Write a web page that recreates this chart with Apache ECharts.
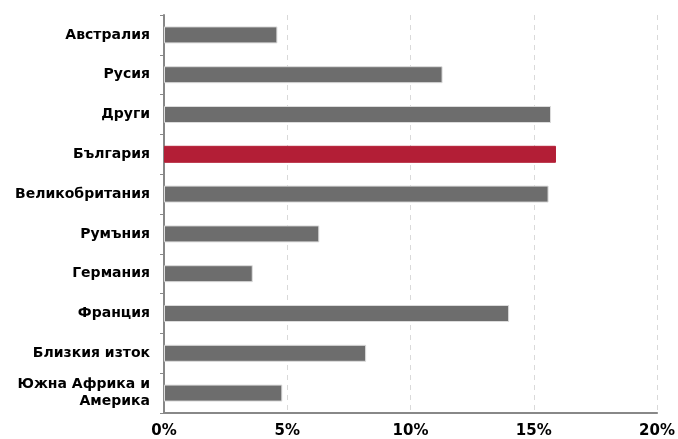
<!DOCTYPE html>
<html><head><meta charset="utf-8">
<script src="https://cdn.jsdelivr.net/npm/echarts@6/dist/echarts.min.js"></script>
<style>html,body{margin:0;padding:0;background:#fff}#c{width:678px;height:439px}</style>
</head><body><div id="c"></div>
<script>
const categories = ['Австралия','Русия','Други','България','Великобритания','Румъния','Германия','Франция','Близкия изток','Южна Африка и\nАмерика'];
const values = [4.6, 11.3, 15.7, 15.9, 15.6, 6.3, 3.6, 14.0, 8.2, 4.8];
const highlight = 'България';
const xTicks = [0, 5, 10, 15, 20];
const FONT = "'DejaVu Sans', Verdana, sans-serif";

const chart = echarts.init(document.getElementById('c'));
chart.setOption({
  animation: false,
  grid: {left: 164, right: 19, top: 15, bottom: 26, containLabel: false},
  xAxis: {
    type: 'value', min: xTicks[0], max: xTicks[xTicks.length-1], interval: 5,
    axisLine: {show: true, lineStyle: {color: '#888', width: 2}},
    axisTick: {show: false},
    splitLine: {show: true, lineStyle: {color: '#d9d9d9', type: [5, 5], width: 1}},
    axisLabel: {formatter: v => v + '%', color: '#000', fontFamily: FONT, fontWeight: 'bold', fontSize: 15, margin: 11}
  },
  yAxis: {
    type: 'category', data: categories, inverse: true,
    axisLine: {show: true, lineStyle: {color: '#888', width: 2}},
    axisTick: {show: true, length: 4, lineStyle: {color: '#888'}},
    axisLabel: {color: '#000', fontFamily: FONT, fontWeight: 'bold', fontSize: 14, margin: 14, align: 'right', lineHeight: 17}
  },
  series: [{
    type: 'bar', barWidth: 17,
    data: values.map((v, i) => ({value: v, itemStyle: {color: categories[i] === highlight ? '#b31e36' : '#6d6d6d', borderColor: categories[i] === highlight ? '#b31e36' : '#dcdcdc', borderWidth: 1}}))
  }]
});
</script></body></html>
